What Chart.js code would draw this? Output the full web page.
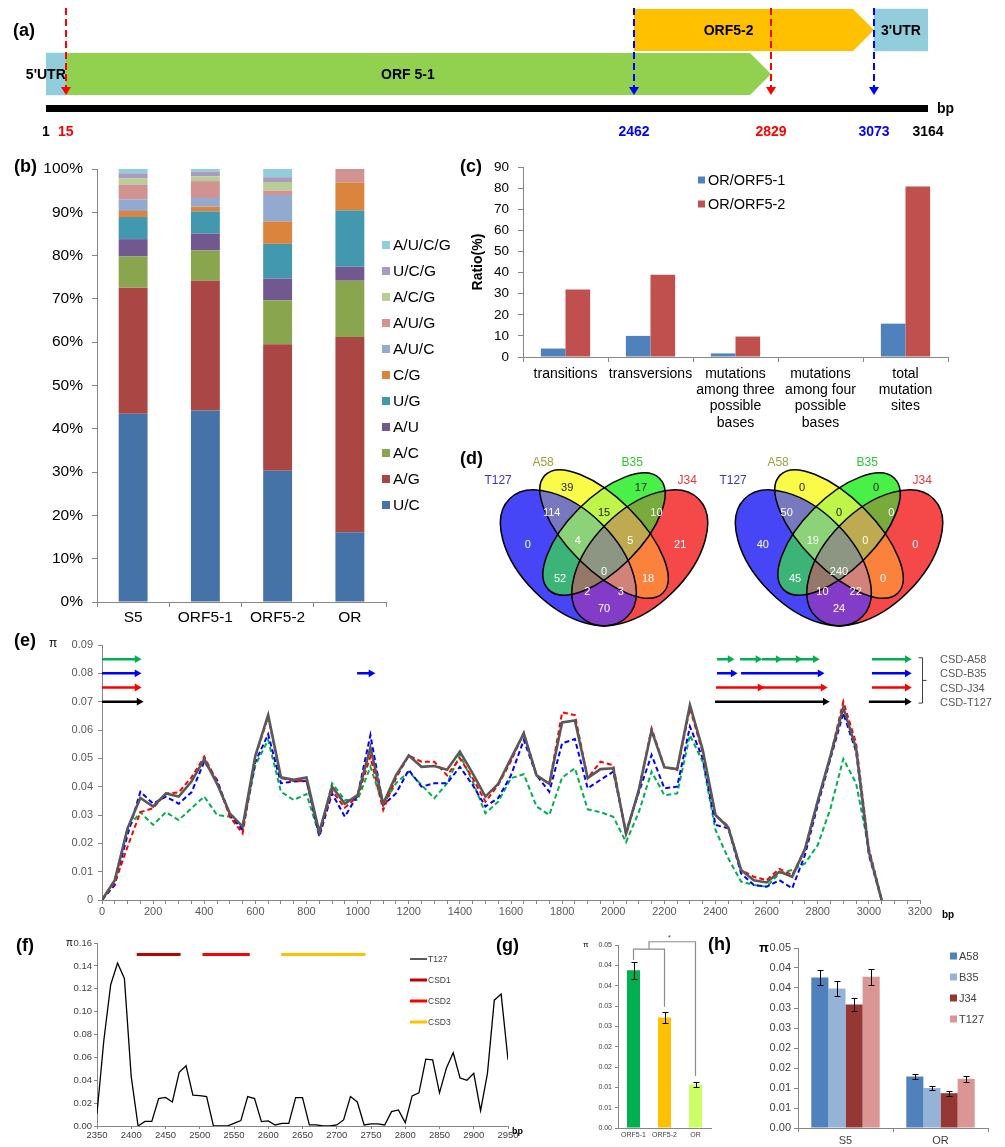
<!DOCTYPE html>
<html>
<head>
<meta charset="utf-8">
<script src="https://cdn.jsdelivr.net/npm/chart.js@4.4.1/dist/chart.umd.min.js"></script>
<style>
  body { margin: 0; background: #fff; }
  #fig { position: relative; width: 1005px; height: 1147px; overflow: hidden; font-family: "Liberation Sans", Arial, sans-serif; }
  #fig canvas { position: absolute; }
  .tag { position: absolute; z-index: 5; font-weight: bold; font-size: 18px; line-height: 20px; }
  .txt { position: absolute; z-index: 5; line-height: 1; white-space: nowrap; }
</style>
</head>
<body>
<div id="fig">
  <div class="tag" style="left:13px;top:20px">(a)</div>
  <div class="tag" style="left:14px;top:156px">(b)</div>
  <div class="tag" style="left:460px;top:156px">(c)</div>
  <div class="tag" style="left:460px;top:448px">(d)</div>
  <div class="tag" style="left:14px;top:630px">(e)</div>
  <div class="tag" style="left:16px;top:935px">(f)</div>
  <div class="tag" style="left:496px;top:935px">(g)</div>
  <div class="tag" style="left:708px;top:934px">(h)</div>
  <div class="txt" style="left:49px;top:637px;font-size:12px">π</div>
  <div class="txt" style="left:942px;top:910px;font-size:10px;font-weight:bold">bp</div>
  <div class="txt" style="left:66px;top:938px;font-size:10px">π</div>
  <div class="txt" style="left:512px;top:1127px;font-size:9px;font-weight:bold">bp</div>
  <div class="txt" style="left:583px;top:941px;font-size:8px">π</div>
  <div class="txt" style="left:759px;top:941px;font-size:13px;font-weight:bold">π</div>
</div>
<script>
// ---------------- data ----------------
// (a) genome map of segment 5
const geneFeatures = ["5'UTR", 'ORF 5-1', 'ORF5-2', "3'UTR"];
const featureStart = [1, 15, 2462, 3073];
const featureEnd = [15, 2829, 3073, 3164];
const featureRow = [1, 1, 0, 0];
const siteBp = [15, 2462, 2829, 3073];
const bpTicks = [1, 15, 2462, 2829, 3073, 3164];

// (b) mutation types, % of sites
const samplesB = ['S5', 'ORF5-1', 'ORF5-2', 'OR'];
const mutTypes = ['U/C', 'A/G', 'A/C', 'A/U', 'U/G', 'C/G', 'A/U/C', 'A/U/G', 'A/C/G', 'U/C/G', 'A/U/C/G'];
const pctUC = [43.5, 44.2, 30.3, 16.1];
const pctAG = [29.1, 30.0, 29.2, 45.1];
const pctAC = [7.2, 7.0, 10.2, 13.0];
const pctAU = [4.0, 3.9, 5.0, 3.2];
const pctUG = [5.1, 5.1, 8.0, 13.0];
const pctCG = [1.4, 1.1, 5.2, 6.5];
const pctAUC = [2.7, 2.0, 6.1, 0];
const pctAUG = [3.4, 3.9, 1.0, 3.1];
const pctACG = [1.4, 1.1, 2.0, 0];
const pctUCG = [1.2, 1.1, 1.1, 0];
const pctAUCG = [1.0, 0.6, 1.9, 0];

// (c) ratio (%)
const mutClasses = ['transitions', 'transversions', ['mutations', 'among three', 'possible', 'bases'],
  ['mutations', 'among four', 'possible', 'bases'], ['total', 'mutation', 'sites']];
const ratioOrf51 = [4, 10, 1.7, 0, 15.8];
const ratioOrf52 = [32, 39, 9.7, 0, 80.8];

// (d) venn counts
const vennSets = ['T127', 'A58', 'B35', 'J34'];
const vennRegions = ['T', 'A', 'B', 'J', 'TA', 'AB', 'BJ', 'TAB', 'ABJ', 'TB', 'TABJ', 'AJ', 'TBJ', 'TAJ', 'TJ'];
const vennLeft = [0, 39, 17, 21, 114, 15, 10, 4, 5, 52, 0, 18, 2, 3, 70];
const vennRight = [40, 0, 0, 0, 50, 0, 0, 19, 0, 45, 240, 0, 10, 22, 24];

// (e) sliding window pi
const bpE = [0, 50, 100, 150, 200, 250, 300, 350, 400, 450, 500, 550, 600, 650, 700, 750, 800, 850, 900, 950,
  1000, 1050, 1100, 1150, 1200, 1250, 1300, 1350, 1400, 1450, 1500, 1550, 1600, 1650, 1700, 1750, 1800, 1850,
  1900, 1950, 2000, 2050, 2100, 2150, 2200, 2250, 2300, 2350, 2400, 2450, 2500, 2550, 2600, 2650, 2700, 2750,
  2800, 2850, 2900, 2950, 3000, 3050];
const piT127 = [0, 0.007, 0.0253, 0.036, 0.033, 0.0376, 0.0365, 0.0418, 0.0498, 0.041, 0.0306, 0.0259, 0.051, 0.0653,
  0.0433, 0.0424, 0.0432, 0.024, 0.040, 0.034, 0.037, 0.0538, 0.034, 0.044, 0.051, 0.047, 0.0473, 0.046, 0.0524,
  0.0447, 0.0365, 0.041, 0.05, 0.0588, 0.044, 0.041, 0.0627, 0.0634, 0.043, 0.0462, 0.0465, 0.0235, 0.0388, 0.0598,
  0.0468, 0.0462, 0.0688, 0.053, 0.030, 0.0256, 0.0106, 0.007, 0.0062, 0.010, 0.0082, 0.018, 0.035, 0.051, 0.0679,
  0.0535, 0.017, 0];
const piJ34 = [0, 0.006, 0.0188, 0.031, 0.0324, 0.0376, 0.038, 0.0433, 0.0506, 0.0418, 0.0294, 0.0235, 0.0506, 0.0647,
  0.043, 0.042, 0.042, 0.0235, 0.0385, 0.0326, 0.0365, 0.0506, 0.0318, 0.043, 0.051, 0.0488, 0.0488, 0.044, 0.05,
  0.043, 0.0347, 0.0406, 0.049, 0.059, 0.044, 0.041, 0.0662, 0.0653, 0.043, 0.0488, 0.0476, 0.023, 0.039, 0.0606,
  0.047, 0.0459, 0.0676, 0.052, 0.030, 0.026, 0.0106, 0.0082, 0.007, 0.011, 0.0088, 0.018, 0.035, 0.051, 0.070,
  0.0553, 0.018, 0];
const piB35 = [0, 0.0053, 0.023, 0.0382, 0.034, 0.0365, 0.034, 0.038, 0.0488, 0.0424, 0.030, 0.0247, 0.0488, 0.0585,
  0.0412, 0.0418, 0.042, 0.0224, 0.0376, 0.0294, 0.037, 0.0582, 0.0335, 0.0376, 0.0459, 0.040, 0.0412, 0.0412, 0.047,
  0.0406, 0.033, 0.036, 0.044, 0.0565, 0.044, 0.0382, 0.0553, 0.0568, 0.0394, 0.0424, 0.0453, 0.024, 0.038, 0.0512,
  0.0394, 0.040, 0.0612, 0.05, 0.0265, 0.0253, 0.0094, 0.0053, 0.0047, 0.007, 0.0041, 0.0159, 0.0335, 0.05, 0.0659,
  0.0524, 0.0159, 0];
const piA58 = [0, 0.007, 0.0253, 0.031, 0.0265, 0.031, 0.0282, 0.0324, 0.0365, 0.030, 0.0294, 0.0253, 0.0476, 0.0565,
  0.0382, 0.0353, 0.0374, 0.023, 0.0412, 0.0353, 0.0353, 0.047, 0.0335, 0.0412, 0.0453, 0.0406, 0.0359, 0.0412,
  0.0512, 0.0418, 0.0306, 0.0347, 0.043, 0.0444, 0.033, 0.030, 0.0432, 0.0465, 0.032, 0.031, 0.0294, 0.0204, 0.031,
  0.0453, 0.037, 0.0376, 0.0582, 0.0488, 0.0247, 0.0147, 0.0065, 0.0053, 0.0047, 0.0094, 0.0106, 0.0129, 0.0194,
  0.0324, 0.0498, 0.0412, 0.018, 0];
const csdNames = ['CSD-A58', 'CSD-B35', 'CSD-J34', 'CSD-T127'];
const csdA58 = [[0, 137], [2406, 2457], [2496, 2566], [2582, 2645], [2653, 2723], [2731, 2790], [3012, 3150]];
const csdB35 = [[0, 137], [998, 1052], [2406, 2469], [2500, 2809], [3012, 3150]];
const csdJ34 = [[0, 137], [2402, 2574], [2582, 2821], [3012, 3150]];
const csdT127 = [[0, 145], [2398, 2829], [3000, 3150]];
const yLabelsE = ['0', '0.01', '0.02', '0.03', '0.04', '0.05', '0.06', '0.07', '0.08', '0.09'];

// (f) T127, 2350-2950 bp
const bpF = [2350, 2360, 2370, 2380, 2390, 2400, 2410, 2420, 2430, 2440, 2450, 2460, 2470, 2480, 2490, 2500, 2510,
  2520, 2530, 2540, 2550, 2560, 2570, 2580, 2590, 2600, 2610, 2620, 2630, 2640, 2650, 2660, 2670, 2680, 2690, 2700,
  2710, 2720, 2730, 2740, 2750, 2760, 2770, 2780, 2790, 2800, 2810, 2820, 2830, 2840, 2850, 2860, 2870, 2880, 2890,
  2900, 2910, 2920, 2930, 2940, 2950];
const piF = [0.011, 0.075, 0.1235, 0.1425, 0.129, 0.043, 0, 0.004, 0.004, 0.024, 0.025, 0.021, 0.047, 0.0526, 0.027,
  0.0266, 0.0257, 0, 0, 0, 0.0023, 0.0047, 0.0257, 0.024, 0.0038, 0.0044, 0.0009, 0.0023, 0.0023, 0.0248, 0.0248,
  0.0009, 0.0009, 0, 0, 0.0009, 0.0053, 0.0257, 0.021, 0.0009, 0.0018, 0.0018, 0.0009, 0.0126, 0.014, 0.0029, 0.0263,
  0.029, 0.0584, 0.0578, 0.029, 0.0505, 0.064, 0.042, 0.040, 0.046, 0.0134, 0.046, 0.11, 0.1153, 0.058];
const csdF = ['CSD1', 'CSD2', 'CSD3'];
const csdFRange = [[2408, 2472], [2504, 2573], [2619, 2742]];

// (g) pi per region
const regionsG = ['ORF5-1', 'ORF5-2', 'OR'];
const piG = [0.0388, 0.0272, 0.0107];
const errG = [0.0021, 0.0014, 0.0005];
const yLabelsG = ['0.00', '0.01', '0.01', '0.02', '0.02', '0.03', '0.03', '0.04', '0.04', '0.05'];

// (h) pi per strain
const regionsH = ['S5', 'OR'];
const strainsH = ['A58', 'B35', 'J34', 'T127'];
const piHA58 = [0.0376, 0.0129];
const piHB35 = [0.0349, 0.0100];
const piHJ34 = [0.0309, 0.0087];
const piHT127 = [0.0378, 0.0123];
const errHA58 = [0.0019, 0.0007];
const errHB35 = [0.0019, 0.0006];
const errHJ34 = [0.0017, 0.0006];
const errHT127 = [0.0020, 0.0007];

// ---------------- styles ----------------
const FONT = '"Liberation Sans", Arial, sans-serif';
const AXIS = '#868686';
const featureColors = ['#92CDDC', '#92D050', '#FFC000', '#92CDDC'];
const featureShape = ['box', 'arrow', 'arrow', 'box'];
const featureAlign = ['right', 'center', 'center', 'center'];
const featureShift = [0, 0, -15, 0];
const siteColors = ['#FF0000', '#0000FF', '#FF0000', '#0000FF'];
const bpTickColors = ['#000', '#FF0000', '#0000FF', '#FF0000', '#0000FF', '#000'];
const mapKnots = { bp: [1, 15, 2462, 2829, 3073, 3164], frac: [0, 0.0224, 0.6667, 0.822, 0.9388, 1] };
const mutColors = ['#4572A7', '#AA4643', '#89A54E', '#71588F', '#4198AF', '#DB843D', '#93A9CF', '#D19392',
  '#B9CD96', '#A99BBD', '#92CDDC'];

Chart.defaults.font.family = FONT;
Chart.defaults.color = '#000';
Chart.defaults.animation = false;
Chart.defaults.responsive = false;
Chart.defaults.devicePixelRatio = 1;
Chart.defaults.plugins.legend.display = false;
Chart.defaults.plugins.tooltip.enabled = false;

function canvasAt(left, top, w, h) {
  const c = document.createElement('canvas');
  c.width = w; c.height = h;
  c.style.left = left + 'px'; c.style.top = top + 'px';
  c.style.width = w + 'px'; c.style.height = h + 'px';
  document.getElementById('fig').appendChild(c);
  return c.getContext('2d');
}
const fixW = w => s => { s.width = w; };
const fixH = h => s => { s.height = h; };

function interp(v, xs, ys) {
  let i = 1;
  while (i < xs.length - 1 && v > xs[i]) i++;
  return ys[i - 1] + (v - xs[i - 1]) * (ys[i] - ys[i - 1]) / (xs[i] - xs[i - 1]);
}

// schematic (not to scale) axis used by the genome map
class SchematicScale extends Chart.LinearScale {
  getPixelForValue(value) {
    if (value === null || value === undefined) return NaN;
    return this.getPixelForDecimal(interp(value, mapKnots.bp, mapKnots.frac));
  }
  getValueForPixel(pixel) {
    return interp(this.getDecimalForPixel(pixel), mapKnots.frac, mapKnots.bp);
  }
}
SchematicScale.id = 'schematic';
SchematicScale.defaults = {};
Chart.register(SchematicScale);

// simple legend drawn at fixed spot
const fixedLegend = {
  id: 'fixedLegend',
  afterDraw(chart, args, o) {
    const ctx = chart.ctx;
    let items = chart.data.datasets.filter(d => !d.noLegend).map(d => ({
      label: d.label, color: d.legendColor || d.backgroundColor || d.borderColor, width: d.borderWidth
    }));
    if (o.reverse) items = items.reverse();
    ctx.save();
    ctx.font = o.size + 'px ' + FONT;
    ctx.textBaseline = 'middle';
    items.forEach((it, k) => {
      const y = o.y + k * o.dy;
      if (o.kind === 'line') {
        ctx.strokeStyle = it.color; ctx.lineWidth = it.width;
        ctx.beginPath(); ctx.moveTo(o.x, y); ctx.lineTo(o.x + o.box, y); ctx.stroke();
      } else {
        ctx.fillStyle = it.color;
        ctx.fillRect(o.x, y - o.box / 2, o.box, o.box);
      }
      ctx.fillStyle = o.color || '#000';
      ctx.fillText(it.label, o.x + o.box + o.gap, y + 0.5);
    });
    ctx.restore();
  }
};

const errorBars = {
  id: 'errorBars',
  afterDatasetsDraw(chart, args, o) {
    const { ctx, scales: { y } } = chart;
    ctx.save();
    ctx.strokeStyle = '#000'; ctx.lineWidth = 1;
    chart.data.datasets.forEach((ds, i) => {
      const meta = chart.getDatasetMeta(i);
      ds.data.forEach((v, j) => {
        const e = ds.errors[j], bx = meta.data[j].x;
        const t = Math.round(y.getPixelForValue(v + e)) + 0.5, b = Math.round(y.getPixelForValue(v - e)) + 0.5;
        const xx = Math.round(bx) + 0.5;
        ctx.beginPath();
        ctx.moveTo(xx, t); ctx.lineTo(xx, b);
        ctx.moveTo(xx - o.cap, t); ctx.lineTo(xx + o.cap, t);
        ctx.moveTo(xx - o.cap, b); ctx.lineTo(xx + o.cap, b);
        ctx.stroke();
      });
    });
    ctx.restore();
  }
};

// ---------------- (a) ----------------
const genePlugin = {
  id: 'gene',
  afterDatasetsDraw(chart) {
    const { ctx, chartArea, scales: { x } } = chart;
    ctx.save();
    const shapes = chart.data.datasets.map((ds, i) => {
      const el = chart.getDatasetMeta(i).data[featureRow[i]];
      return el.getProps(['x', 'base', 'y', 'height'], true);
    });
    shapes.forEach((s, i) => {
      if (featureShape[i] !== 'arrow') return;
      const h = s.height / 2;
      ctx.fillStyle = featureColors[i];
      ctx.beginPath();
      ctx.moveTo(s.base, s.y - h); ctx.lineTo(s.x - 21, s.y - h); ctx.lineTo(s.x, s.y);
      ctx.lineTo(s.x - 21, s.y + h); ctx.lineTo(s.base, s.y + h); ctx.closePath(); ctx.fill();
    });
    ctx.font = 'bold 14px ' + FONT;
    ctx.fillStyle = '#000';
    ctx.textBaseline = 'middle';
    shapes.forEach((s, i) => {
      const end = featureShape[i] === 'arrow' ? s.x - 21 : s.x;
      ctx.textAlign = featureAlign[i];
      const tx = featureAlign[i] === 'right' ? end : (s.base + end) / 2;
      ctx.fillText(geneFeatures[i], tx + featureShift[i], s.y + 1);
    });
    siteBp.forEach((bp, i) => {
      const px = Math.round(x.getPixelForValue(bp));
      ctx.strokeStyle = siteColors[i]; ctx.fillStyle = siteColors[i];
      ctx.lineWidth = 2; ctx.setLineDash([7, 4]);
      ctx.beginPath(); ctx.moveTo(px, 8); ctx.lineTo(px, 88); ctx.stroke();
      ctx.setLineDash([]);
      ctx.beginPath(); ctx.moveTo(px - 5, 87); ctx.lineTo(px + 5, 87); ctx.lineTo(px, 95); ctx.closePath(); ctx.fill();
    });
    const x0 = x.getPixelForValue(bpTicks[0]), x1 = x.getPixelForValue(bpTicks[bpTicks.length - 1]);
    ctx.fillStyle = '#000';
    ctx.fillRect(x0, chartArea.bottom + 9, x1 - x0, 7);
    ctx.textAlign = 'left';
    ctx.fillText('bp', x1 + 9, chartArea.bottom + 13);
    ctx.restore();
  }
};

new Chart(canvasAt(0, 0, 1005, 145), {
  type: 'bar',
  data: {
    labels: ['top', 'bottom'],
    datasets: geneFeatures.map((name, i) => ({
      label: name,
      data: featureRow[i] === 0 ? [[featureStart[i], featureEnd[i]], null] : [null, [featureStart[i], featureEnd[i]]],
      backgroundColor: featureShape[i] === 'box' ? featureColors[i] : 'rgba(0,0,0,0)',
      grouped: false,
      barThickness: 42,
      borderWidth: 0
    }))
  },
  options: {
    indexAxis: 'y',
    layout: { padding: { left: 46, right: 77, top: 8, bottom: 5 } },
    scales: {
      x: {
        type: 'schematic', min: 1, max: 3164,
        afterBuildTicks: s => { s.ticks = bpTicks.map(v => ({ value: v })); },
        afterFit: fixH(44),
        grid: { display: false, drawTicks: false },
        border: { display: false },
        ticks: {
          autoSkip: false, maxRotation: 0, padding: 28,
          font: { size: 14, weight: 'bold' },
          color: c => bpTickColors[c.index],
          callback: (v, i) => String(bpTicks[i])
        }
      },
      y: { display: false }
    }
  },
  plugins: [genePlugin]
});

// ---------------- (b) ----------------
const mutShares = [pctUC, pctAG, pctAC, pctAU, pctUG, pctCG, pctAUC, pctAUG, pctACG, pctUCG, pctAUCG];
new Chart(canvasAt(0, 150, 470, 480), {
  type: 'bar',
  data: {
    labels: samplesB,
    datasets: mutTypes.map((t, i) => ({
      label: t, data: mutShares[i], backgroundColor: mutColors[i],
      barPercentage: 0.4, categoryPercentage: 1, borderWidth: 0
    }))
  },
  options: {
    layout: { padding: { left: 37, right: 84, top: 19, bottom: 3 } },
    scales: {
      x: {
        stacked: true, afterFit: fixH(25),
        grid: { drawOnChartArea: false, tickLength: 5, color: AXIS },
        border: { color: AXIS },
        ticks: { font: { size: 15.5 }, padding: 1, color: '#000' }
      },
      y: {
        stacked: true, min: 0, max: 100, afterFit: fixW(60),
        grid: { drawOnChartArea: false, tickLength: 5, color: AXIS },
        border: { color: AXIS },
        ticks: { stepSize: 10, font: { size: 15.5 }, padding: 9, color: '#000', callback: v => v + '%' }
      }
    },
    plugins: { fixedLegend: { x: 382, y: 95, dy: 26, box: 8, gap: 3, size: 15.5, reverse: true } }
  },
  plugins: [fixedLegend]
});

// ---------------- (c) ----------------
new Chart(canvasAt(470, 150, 535, 300), {
  type: 'bar',
  data: {
    labels: mutClasses,
    datasets: [
      { label: 'OR/ORF5-1', data: ratioOrf51, backgroundColor: '#4F81BD' },
      { label: 'OR/ORF5-2', data: ratioOrf52, backgroundColor: '#C0504D' }
    ].map(d => Object.assign(d, { categoryPercentage: 0.58, barPercentage: 1, borderWidth: 0 }))
  },
  options: {
    layout: { padding: { left: 0, right: 57, top: 16, bottom: 13 } },
    scales: {
      x: {
        afterFit: fixH(80),
        grid: { drawOnChartArea: false, tickLength: 5, color: AXIS },
        border: { color: AXIS },
        ticks: { font: { size: 14, lineHeight: 1.16 }, padding: 4, color: '#000', maxRotation: 0, autoSkip: false }
      },
      y: {
        min: 0, max: 90, afterFit: fixW(53),
        title: { display: true, text: 'Ratio(%)', font: { size: 14, weight: 'bold' }, padding: 0 },
        grid: { drawOnChartArea: false, tickLength: 5, color: AXIS },
        border: { color: AXIS },
        ticks: { stepSize: 10, font: { size: 13.5 }, padding: 9, color: '#000' }
      }
    },
    plugins: { fixedLegend: { x: 228, y: 30, dy: 24, box: 7, gap: 3, size: 14.5 } }
  },
  plugins: [fixedLegend]
});

// ---------------- (d) ----------------
// four ellipses (unit square, y up); key = set letter
const vennShapes = [
  { key: 'A', cx: 0.50, cy: 0.57, a: 0.35, b: 0.15, rot: 135 },
  { key: 'J', cx: 0.65, cy: 0.47, a: 0.35, b: 0.20, rot: 45 },
  { key: 'T', cx: 0.35, cy: 0.47, a: 0.35, b: 0.20, rot: 135 },
  { key: 'B', cx: 0.50, cy: 0.57, a: 0.33, b: 0.15, rot: 45 }
];
const regionFill = {
  T: '#4646F6', A: '#FAFA48', B: '#48F048', J: '#F54848',
  TA: '#7878BE', AB: '#BEF548', BJ: '#78AA3C', TAB: '#8CD278', ABJ: '#BEAA50',
  TB: '#3CB478', TABJ: '#8C9682', AJ: '#FA823C', TBJ: '#967868', TAJ: '#D28278', TJ: '#823CC8'
};
const regionPos = {
  T: [0.18, 0.524], A: [0.345, 0.763], B: [0.655, 0.763], J: [0.82, 0.524],
  TA: [0.28, 0.658], AB: [0.5, 0.658], BJ: [0.72, 0.658], TAB: [0.39, 0.541], ABJ: [0.61, 0.541],
  TB: [0.315, 0.381], TABJ: [0.5, 0.41], AJ: [0.685, 0.381], TBJ: [0.43, 0.326], TAJ: [0.57, 0.326], TJ: [0.5, 0.255]
};
const darkInk = { A: true, B: true, AB: true };
const setLabelPos = [[0.055, 0.793], [0.244, 0.868], [0.618, 0.868], [0.849, 0.793]];
const setLabelColors = ['#3535D0', '#9E9E3E', '#2FC82F', '#E03A3A'];

const vennPlugin = {
  id: 'venn',
  beforeDatasetsDraw(chart) {
    const { ctx, width, height, scales: { x, y } } = chart;
    const k = x.getPixelForValue(1) - x.getPixelForValue(0);
    const addEllipse = s => {
      const cx = x.getPixelForValue(s.cx), cy = y.getPixelForValue(s.cy);
      const r = -s.rot * Math.PI / 180;
      ctx.moveTo(cx + s.a * k * Math.cos(r), cy + s.a * k * Math.sin(r));
      ctx.ellipse(cx, cy, s.a * k, s.b * k, r, 0, 2 * Math.PI);
    };
    vennRegions.forEach(reg => {
      ctx.save();
      vennShapes.forEach(s => {
        ctx.beginPath();
        if (reg.includes(s.key)) {
          addEllipse(s); ctx.clip();
        } else {
          ctx.rect(-5, -5, width + 10, height + 10); addEllipse(s); ctx.clip('evenodd');
        }
      });
      ctx.fillStyle = regionFill[reg];
      ctx.fillRect(0, 0, width, height);
      ctx.restore();
    });
    ctx.save();
    ctx.lineWidth = 1.5; ctx.strokeStyle = '#000';
    vennShapes.forEach(s => { ctx.beginPath(); addEllipse(s); ctx.stroke(); });
    ctx.restore();
  },
  afterDatasetsDraw(chart) {
    const { ctx, scales: { x, y } } = chart;
    const ds = chart.data.datasets[0], meta = chart.getDatasetMeta(0);
    ctx.save();
    ctx.textAlign = 'center'; ctx.textBaseline = 'middle';
    ctx.font = '11px ' + FONT;
    meta.data.forEach((pt, i) => {
      ctx.fillStyle = darkInk[vennRegions[i]] ? '#222' : '#fff';
      ctx.fillText(String(ds.counts[i]), pt.x, pt.y);
    });
    ctx.font = '12px ' + FONT;
    vennSets.forEach((name, i) => {
      ctx.fillStyle = setLabelColors[i];
      ctx.fillText(name, x.getPixelForValue(setLabelPos[i][0]), y.getPixelForValue(setLabelPos[i][1]));
    });
    ctx.restore();
  }
};

function vennChart(left, counts) {
  new Chart(canvasAt(left, 455, 240, 175), {
    type: 'scatter',
    data: {
      datasets: [{
        label: 'counts', counts: counts,
        data: vennRegions.map(r => ({ x: regionPos[r][0], y: regionPos[r][1] })),
        pointRadius: 0
      }]
    },
    options: {
      layout: { padding: 0 },
      scales: {
        x: { type: 'linear', min: -0.021, max: 0.987, display: false },
        y: { type: 'linear', min: 0.167, max: 0.902, display: false }
      }
    },
    plugins: [vennPlugin]
  });
}
vennChart(480, vennLeft);
vennChart(715, vennRight);

// ---------------- (e) ----------------
const csdRowPi = [0.085, 0.08, 0.075, 0.07];
const csdColors = ['#00B050', '#0000FF', '#FF0000', '#000000'];
const csdSets = [csdA58, csdB35, csdJ34, csdT127];
const toXY = (xs, ys) => ys.map((v, i) => ({ x: xs[i], y: v }));

const csdBracket = {
  id: 'csdBracket',
  afterDraw(chart) {
    const { ctx, chartArea, scales: { y } } = chart;
    const bx = chartArea.right + 2.5;
    const t = y.getPixelForValue(0.0855), b = y.getPixelForValue(0.0695), m = (t + b) / 2;
    ctx.save();
    ctx.strokeStyle = '#404040'; ctx.lineWidth = 1;
    ctx.beginPath();
    ctx.moveTo(bx - 4, t); ctx.lineTo(bx, t); ctx.lineTo(bx, b); ctx.lineTo(bx - 4, b);
    ctx.moveTo(bx, m); ctx.lineTo(bx + 4, m);
    ctx.stroke();
    ctx.fillStyle = '#595959'; ctx.font = '11px ' + FONT; ctx.textBaseline = 'middle';
    csdNames.forEach((n, i) => ctx.fillText(n, chartArea.right + 20, y.getPixelForValue(csdRowPi[i]) + 1));
    ctx.restore();
  }
};

const piLines = [
  { label: 'T127', data: toXY(bpE, piT127), borderColor: '#595959', borderWidth: 2.6 },
  { label: 'J34', data: toXY(bpE, piJ34), borderColor: '#FF0000', borderWidth: 2, borderDash: [5, 3] },
  { label: 'B35', data: toXY(bpE, piB35), borderColor: '#0000FF', borderWidth: 2, borderDash: [5, 3] },
  { label: 'A58', data: toXY(bpE, piA58), borderColor: '#00B050', borderWidth: 2, borderDash: [5, 3] }
];
const csdLines = csdSets.map((segs, i) => ({
  label: csdNames[i],
  data: segs.flatMap(([s, e]) => [{ x: s, y: csdRowPi[i] }, { x: e, y: csdRowPi[i], head: true }, { x: e + 1, y: null }]),
  borderColor: csdColors[i], backgroundColor: csdColors[i], borderWidth: 2.5, spanGaps: false,
  pointStyle: 'triangle', pointRotation: 90, pointBorderWidth: 0,
  pointRadius: c => (c.raw && c.raw.head ? 4.5 : 0)
}));

new Chart(canvasAt(0, 630, 1005, 290), {
  type: 'line',
  data: { datasets: piLines.map(d => Object.assign(d, { pointRadius: 0, tension: 0 })).concat(csdLines) },
  options: {
    layout: { padding: { left: 42, right: 85, top: 15, bottom: 2 } },
    scales: {
      x: {
        type: 'linear', min: 0, max: 3200, afterFit: fixH(18),
        grid: { drawOnChartArea: false, tickLength: 4, color: AXIS },
        border: { color: AXIS },
        ticks: { stepSize: 50, autoSkip: false, maxRotation: 0, font: { size: 11 }, color: '#595959', padding: 1,
          callback: v => (v % 200 === 0 ? String(v) : '') }
      },
      y: {
        min: 0, max: 0.09, afterFit: fixW(60),
        grid: { drawOnChartArea: false, tickLength: 4, color: AXIS },
        border: { color: AXIS },
        ticks: { stepSize: 0.01, font: { size: 11 }, color: '#595959', padding: 5, callback: (v, i) => yLabelsE[i] }
      }
    }
  },
  plugins: [csdBracket]
});

// ---------------- (f) ----------------
const csdFColors = ['#C00000', '#FF0000', '#FFC000'];
new Chart(canvasAt(0, 930, 540, 217), {
  type: 'line',
  data: {
    datasets: [{ label: 'T127', data: toXY(bpF, piF), borderColor: '#000', borderWidth: 1.3 }]
      .concat(csdF.map((n, i) => ({
        label: n, borderColor: csdFColors[i], borderWidth: 3, borderCapStyle: 'butt',
        data: [{ x: csdFRange[i][0], y: 0.15 }, { x: csdFRange[i][1], y: 0.15 }]
      })))
      .map(d => Object.assign(d, { pointRadius: 0, tension: 0 }))
  },
  options: {
    layout: { padding: { left: 47, right: 32, top: 13, bottom: 3 } },
    scales: {
      x: {
        type: 'linear', min: 2350, max: 2950, afterFit: fixH(18),
        grid: { drawOnChartArea: false, tickLength: 3, color: AXIS },
        border: { color: AXIS },
        ticks: { stepSize: 50, autoSkip: false, maxRotation: 0, font: { size: 9.5 }, color: '#404040', padding: 1,
          callback: v => String(v) }
      },
      y: {
        min: 0, max: 0.16, afterFit: fixW(50),
        grid: { drawOnChartArea: false, tickLength: 3, color: AXIS },
        border: { color: AXIS },
        ticks: { stepSize: 0.02, font: { size: 9.5 }, color: '#404040', padding: 2, callback: v => v.toFixed(2) }
      }
    },
    plugins: { fixedLegend: { kind: 'line', x: 410, y: 29, dy: 21, box: 17, gap: 1, size: 8.5, color: '#404040' } }
  },
  plugins: [fixedLegend]
});

// ---------------- (g) ----------------
const sigPlugin = {
  id: 'sig',
  afterDatasetsDraw(chart) {
    const { ctx, scales: { x, y } } = chart;
    const x0 = x.getPixelForValue(0), x1 = x.getPixelForValue(1), x2 = x.getPixelForValue(2), xm = (x0 + x1) / 2;
    ctx.save();
    ctx.strokeStyle = '#8C8C8C'; ctx.lineWidth = 1.2;
    ctx.beginPath();
    ctx.moveTo(x0, y.getPixelForValue(0.0413)); ctx.lineTo(x0, y.getPixelForValue(0.044));
    ctx.lineTo(x1, y.getPixelForValue(0.044)); ctx.lineTo(x1, y.getPixelForValue(0.0298));
    ctx.moveTo(xm, y.getPixelForValue(0.044)); ctx.lineTo(xm, y.getPixelForValue(0.0458));
    ctx.lineTo(x2, y.getPixelForValue(0.0458)); ctx.lineTo(x2, y.getPixelForValue(0.0128));
    ctx.stroke();
    ctx.fillStyle = '#404040'; ctx.font = '7px ' + FONT; ctx.textAlign = 'center';
    ctx.fillText('*', (xm + x2) / 2 - 3, y.getPixelForValue(0.0462));
    ctx.restore();
  }
};
new Chart(canvasAt(560, 925, 170, 222), {
  type: 'bar',
  data: {
    labels: regionsG,
    datasets: [{ label: 'pi', data: piG, errors: errG, backgroundColor: ['#00B050', '#FFC000', '#CCFF66'],
      barPercentage: 0.42, categoryPercentage: 1, borderWidth: 0 }]
  },
  options: {
    layout: { padding: { left: 33, right: 19, top: 20, bottom: 7 } },
    scales: {
      x: {
        afterFit: fixH(12),
        grid: { drawOnChartArea: false, drawTicks: false, color: AXIS },
        border: { color: AXIS },
        ticks: { font: { size: 7 }, color: '#404040', padding: 3 }
      },
      y: {
        min: 0, max: 0.045, afterFit: fixW(25),
        grid: { drawOnChartArea: false, tickLength: 3, color: AXIS },
        border: { color: AXIS },
        ticks: { stepSize: 0.005, font: { size: 7 }, color: '#404040', padding: 3, callback: (v, i) => yLabelsG[i] }
      }
    },
    plugins: { errorBars: { cap: 3 } }
  },
  plugins: [errorBars, sigPlugin]
});

// ---------------- (h) ----------------
const strainColors = ['#4F81BD', '#95B3D7', '#953735', '#D99694'];
const piH = [piHA58, piHB35, piHJ34, piHT127];
const errH = [errHA58, errHB35, errHJ34, errHT127];
new Chart(canvasAt(725, 925, 280, 222), {
  type: 'bar',
  data: {
    labels: regionsH,
    datasets: strainsH.map((s, i) => ({
      label: s, data: piH[i], errors: errH[i], backgroundColor: strainColors[i],
      categoryPercentage: 0.72, barPercentage: 1, borderWidth: 0
    }))
  },
  options: {
    layout: { padding: { left: 43, right: 17, top: 23, bottom: 3 } },
    scales: {
      x: {
        afterFit: fixH(16),
        grid: { drawOnChartArea: false, tickLength: 4, color: AXIS },
        border: { color: AXIS },
        ticks: { font: { size: 11 }, color: '#404040', padding: 2 }
      },
      y: {
        min: 0, max: 0.045, afterFit: fixW(30),
        grid: { drawOnChartArea: false, tickLength: 4, color: AXIS },
        border: { color: AXIS },
        ticks: { stepSize: 0.005, font: { size: 11 }, color: '#404040', padding: 3, callback: (v, i) => yLabelsG[i] }
      }
    },
    plugins: {
      errorBars: { cap: 3 },
      fixedLegend: { x: 225, y: 31, dy: 21, box: 7, gap: 2, size: 11, color: '#404040' }
    }
  },
  plugins: [errorBars, fixedLegend]
});
</script>
</body>
</html>
